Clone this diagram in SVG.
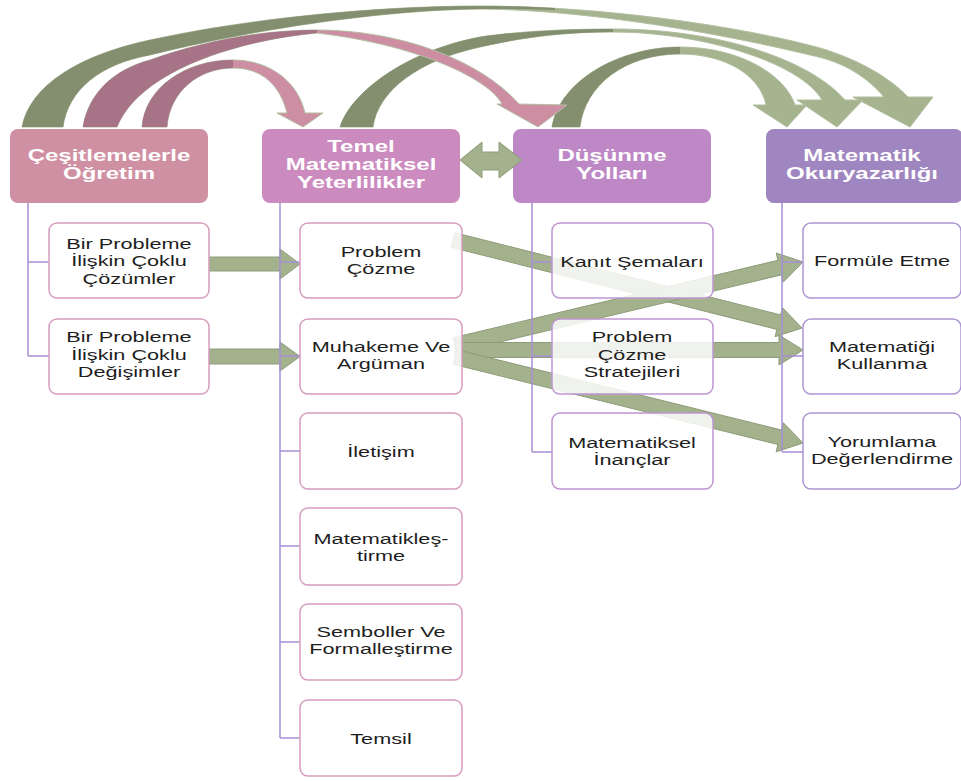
<svg xmlns="http://www.w3.org/2000/svg" width="961" height="781" viewBox="0 0 961 781">
  <style>
    .hbox { stroke: none; }
    .htxt { font-family: "Liberation Sans", Arial, sans-serif; font-weight: bold; font-size: 16px; fill: #ffffff; text-anchor: middle; }
    .cbox { fill: #ffffff; fill-opacity: 0.84; stroke-width: 1.5; }
    .pink { stroke: #d79cbf; }
    .lil { stroke: #bf95d2; }
    .vio { stroke: #ad95d2; }
    .ctxt { font-family: "Liberation Sans", Arial, sans-serif; font-size: 15.5px; fill: #1e1e1e; text-anchor: middle; }
    .link { stroke: #a690d6; stroke-width: 1.5; fill: none; }
    .blk { fill: #a3b28d; stroke: #8c9b78; stroke-width: 1; }
    .arcL { fill: #a5b38f; stroke: #b2bfa0; stroke-width: 1; }
    .arcD { fill: #848f70; stroke: none; }
    .pkL { fill: #cd8ea3; stroke: #b3bea2; stroke-width: 1; }
    .pkD { fill: #a67387; stroke: none; }
  </style>

  <!-- header nodes -->
  <g id="cesitlemelerle">
    <rect class="hbox" x="10" y="129" width="198" height="74" rx="8" fill="#d090a3"/>
    <text class="htxt" transform="translate(109 0) scale(1.5 1)"><tspan x="0" y="161">Çeşitlemelerle</tspan><tspan x="0" y="179">Öğretim</tspan></text>
  </g>
  <g id="temel">
    <rect class="hbox" x="262" y="129" width="198" height="74" rx="8" fill="#cb8bbe"/>
    <text class="htxt" transform="translate(361 0) scale(1.5 1)"><tspan x="0" y="152">Temel</tspan><tspan x="0" y="170">Matematiksel</tspan><tspan x="0" y="188">Yeterlilikler</tspan></text>
  </g>
  <g id="dusunme">
    <rect class="hbox" x="513" y="129" width="198" height="74" rx="8" fill="#be87c6"/>
    <text class="htxt" transform="translate(612 0) scale(1.5 1)"><tspan x="0" y="161">Düşünme</tspan><tspan x="0" y="179">Yolları</tspan></text>
  </g>
  <g id="okuryazarlik">
    <rect class="hbox" x="766" y="129" width="197" height="74" rx="8" fill="#a086c0"/>
    <text class="htxt" transform="translate(862 0) scale(1.5 1)"><tspan x="0" y="161">Matematik</tspan><tspan x="0" y="179">Okuryazarlığı</tspan></text>
  </g>

  <g id="connectors">
    <!-- curved arrows over the top -->
    <g id="arc-ces-ok">
      <path class="arcL" d="M22,127 C30,85 80,55 150,40 C250,18 380,6 480,6 C600,6 740,26 820,48 C860,60 890,78 908,97 L933,97 L910,127 L853,97 L884,97 C868,78 845,62 810,55 C740,38 600,10 480,9 C380,10 250,30 150,55 C100,64 68,90 63,127 Z"/>
      <path class="arcD" d="M22,127 C30,85 80,55 150,40 C250,18 380,6 480,6 C510,6 535,7 555,8 L555,10 C530,9 505,9 480,9 C380,10 250,30 150,55 C100,64 68,90 63,127 Z"/>
    </g>
    <g id="arc-temel-ok">
      <path class="arcL" d="M340,127 C352,90 410,50 480,37 C520,31 570,29 613,29 C720,29 810,60 845,100 L863,100 L837,127 L797,100 L822,100 C800,62 700,32 613,32 C560,32 520,38 480,47 C420,60 378,90 373,127 Z"/>
      <path class="arcD" d="M340,127 C352,90 410,50 480,37 C520,31 570,29 613,29 L613,32 C560,32 520,38 480,47 C420,60 378,90 373,127 Z"/>
    </g>
    <g id="arc-dus-ok">
      <path class="arcL" d="M552,127 C560,80 620,47 680,47 C740,47 785,75 795,105 L807,105 L787,127 L753,105 L766,105 C760,75 725,54 680,54 C625,54 585,85 580,127 Z"/>
      <path class="arcD" d="M552,127 C560,80 620,47 680,47 L680,54 C625,54 585,85 580,127 Z"/>
    </g>
    <g id="arc-ces-temel">
      <path class="pkL" d="M142,127 C145,88 185,60 233,60 C270,60 298,82 305,113 L323,113 L303,127 L277,113 L287,113 C280,85 262,68 233,68 C200,68 170,90 167,127 Z"/>
      <path class="pkD" d="M142,127 C145,88 185,60 233,60 L233,68 C200,68 170,90 167,127 Z"/>
    </g>
    <g id="arc-ces-dus">
      <path class="pkL" d="M83,127 C88,95 112,70 150,60 C200,42 260,30 317,30 C400,30 480,60 519,104 L567,105 L538,127 L497,104 L502,104 C490,80 420,45 317,33 C240,40 140,70 117,127 Z"/>
      <path class="pkD" d="M83,127 C88,95 112,70 150,60 C200,42 260,30 317,30 L317,33 C240,40 140,70 117,127 Z"/>
    </g>

    <!-- straight block arrows -->
    <polygon class="blk" points="209,257 280,257 280,249 300,264 280,279 280,271 209,271"/>
    <polygon class="blk" points="209,349 280,349 280,342 300,356.5 280,371 280,364 209,364"/>
    <polygon class="blk" points="451.2,247.3 776.9,329.4 775.1,336.7 802,328 782.4,307.6 780.6,314.9 454.8,232.7"/>
    <polygon class="blk" points="456.7,352.3 781.4,274.9 783.1,282.2 803,262 776.2,253 777.9,260.3 453.3,337.7"/>
    <polygon class="blk" points="455,357.5 779,357.5 779,365 803,350 779,335 779,342.5 455,342.5"/>
    <polygon class="blk" points="453.2,364.3 777.9,444.5 776.1,451.8 803,443 783.3,422.7 781.5,430 456.8,349.7"/>

    <!-- tree lines -->
    <path class="link" d="M28,203 V356 M28,262 H49 M28,356 H49"/>
    <path class="link" d="M280,203 V738 M280,262 H300 M280,356 H300 M280,451 H300 M280,546 H300 M280,642 H300 M280,738 H300"/>
    <path class="link" d="M532,203 V452 M532,262 H552 M532,356 H552 M532,452 H552"/>
    <path class="link" d="M782,203 V452 M782,262 H803 M782,356 H803 M782,452 H803"/>

    <!-- two-way arrow between the middle headers -->
    <polygon class="blk" points="460,160 482,142 482,152 499,152 499,142 522,160 499,178 499,170 482,170 482,178"/>
  </g>

  <!-- column 1 -->
  <g id="coklu-cozumler">
    <rect class="cbox pink" x="49" y="223" width="160" height="75" rx="8"/>
    <text class="ctxt" transform="translate(129 0) scale(1.4 1)"><tspan x="0" y="249">Bir Probleme</tspan><tspan x="0" y="266.5">İlişkin Çoklu</tspan><tspan x="0" y="284">Çözümler</tspan></text>
  </g>
  <g id="coklu-degisimler">
    <rect class="cbox pink" x="49" y="319" width="160" height="75" rx="8"/>
    <text class="ctxt" transform="translate(129 0) scale(1.4 1)"><tspan x="0" y="342.5">Bir Probleme</tspan><tspan x="0" y="360">İlişkin Çoklu</tspan><tspan x="0" y="377.5">Değişimler</tspan></text>
  </g>

  <!-- column 2 -->
  <g id="problem-cozme">
    <rect class="cbox pink" x="300" y="223" width="162" height="75" rx="8"/>
    <text class="ctxt" transform="translate(381 0) scale(1.4 1)"><tspan x="0" y="257">Problem</tspan><tspan x="0" y="274.5">Çözme</tspan></text>
  </g>
  <g id="muhakeme">
    <rect class="cbox pink" x="300" y="319" width="162" height="75" rx="8"/>
    <text class="ctxt" transform="translate(381 0) scale(1.4 1)"><tspan x="0" y="352">Muhakeme Ve</tspan><tspan x="0" y="369.5">Argüman</tspan></text>
  </g>
  <g id="iletisim">
    <rect class="cbox pink" x="300" y="413" width="162" height="76" rx="8"/>
    <text class="ctxt" transform="translate(381 0) scale(1.4 1)"><tspan x="0" y="457">İletişim</tspan></text>
  </g>
  <g id="matematiklestirme">
    <rect class="cbox pink" x="300" y="508" width="162" height="77" rx="8"/>
    <text class="ctxt" transform="translate(381 0) scale(1.4 1)"><tspan x="0" y="544">Matematikleş-</tspan><tspan x="0" y="561.5">tirme</tspan></text>
  </g>
  <g id="semboller">
    <rect class="cbox pink" x="300" y="604" width="162" height="76" rx="8"/>
    <text class="ctxt" transform="translate(381 0) scale(1.4 1)"><tspan x="0" y="637">Semboller Ve</tspan><tspan x="0" y="654.5">Formalleştirme</tspan></text>
  </g>
  <g id="temsil">
    <rect class="cbox pink" x="300" y="700" width="162" height="76" rx="8"/>
    <text class="ctxt" transform="translate(381 0) scale(1.4 1)"><tspan x="0" y="744">Temsil</tspan></text>
  </g>

  <!-- column 3 -->
  <g id="kanit-semalari">
    <rect class="cbox lil" x="552" y="223" width="161" height="75" rx="8"/>
    <text class="ctxt" transform="translate(632 0) scale(1.4 1)"><tspan x="0" y="267">Kanıt Şemaları</tspan></text>
  </g>
  <g id="cozme-stratejileri">
    <rect class="cbox lil" x="552" y="319" width="161" height="75" rx="8"/>
    <text class="ctxt" transform="translate(632 0) scale(1.4 1)"><tspan x="0" y="342.5">Problem</tspan><tspan x="0" y="360">Çözme</tspan><tspan x="0" y="377.5">Stratejileri</tspan></text>
  </g>
  <g id="matematiksel-inanclar">
    <rect class="cbox lil" x="552" y="413" width="161" height="76" rx="8"/>
    <text class="ctxt" transform="translate(632 0) scale(1.4 1)"><tspan x="0" y="448">Matematiksel</tspan><tspan x="0" y="465.5">İnançlar</tspan></text>
  </g>

  <!-- column 4 -->
  <g id="formule-etme">
    <rect class="cbox vio" x="803" y="223" width="158" height="75" rx="8"/>
    <text class="ctxt" transform="translate(882 0) scale(1.4 1)"><tspan x="0" y="266">Formüle Etme</tspan></text>
  </g>
  <g id="matematigi-kullanma">
    <rect class="cbox vio" x="803" y="319" width="158" height="75" rx="8"/>
    <text class="ctxt" transform="translate(882 0) scale(1.4 1)"><tspan x="0" y="352">Matematiği</tspan><tspan x="0" y="369.5">Kullanma</tspan></text>
  </g>
  <g id="yorumlama">
    <rect class="cbox vio" x="803" y="413" width="158" height="76" rx="8"/>
    <text class="ctxt" transform="translate(882 0) scale(1.4 1)"><tspan x="0" y="447">Yorumlama</tspan><tspan x="0" y="464.5">Değerlendirme</tspan></text>
  </g>
</svg>
